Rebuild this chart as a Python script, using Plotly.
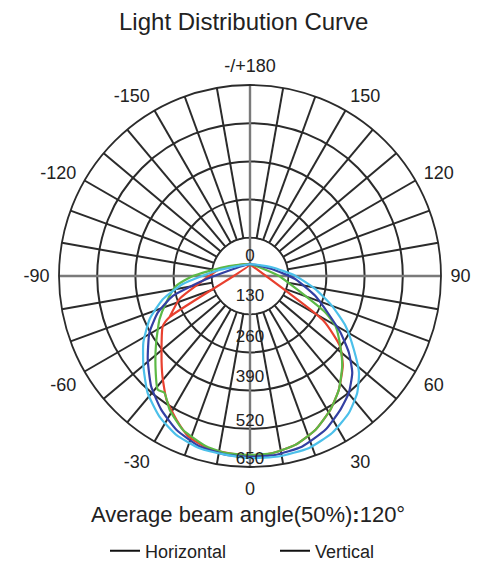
import numpy as np
import plotly.graph_objects as go

# ---- data ----
ring_values = [130, 260, 390, 520, 650]
ring_labels = ["130", "260", "390", "520", "650"]
angle_ticks = list(range(0, 360, 10))
angle_label_map = {0: "0", 30: "30", 60: "60", 90: "90", 120: "120", 150: "150",
                   180: "-/+180", 210: "-150", 240: "-120", 270: "-90", 300: "-60", 330: "-30"}

red_theta = [-63, -72, -80, -103, -180, -63, -60, -49, -41, -34, -27, -21, -14, -7.5, 0,
             7, 15, 23, 31, 38, 46, 52, 58.6, 180]
red_r = [307, 252, 185, 105, 40, 307, 343, 399, 454, 508, 550, 585, 603, 607, 612,
         608, 595, 569, 531, 491, 439, 389, 294, 40]

green_theta = [-180, -108, -90, -82.5, -72.5, -64.5, -54.6, -45.3, -39.1, -36.2, -31, -23.6,
               -14.3, -7.5, 0, 7, 15, 23, 31, 38, 45.6, 52.2, 59.7, 64.2, 70.3, 90.6, 180]
green_r = [40, 96, 194, 253, 299, 341, 392, 452, 498, 493, 531, 571,
           599, 608, 609, 608, 595, 569, 531, 491, 439, 389, 337, 285, 200, 97, 40]

blue_theta = [-180, -86, -75.6, -68.4, -60.6, -50.8, -41.9, -33.6, -25.6, -16.4, -7.5, 0,
              8, 16.9, 26.1, 34.1, 40.2, 46.6, 52.2, 58, 64.1, 73.1, 86.2, 107.9, 180]
blue_r = [40, 148, 271, 337, 393, 449, 504, 546, 580, 605, 614, 615,
          615, 607, 583, 549, 521, 479, 426, 363, 298, 232, 154, 78, 40]

cyan_theta = [-180, -99, -83.2, -75.1, -66.7, -58, -49.8, -41.2, -32.8, -24.9, -16.3, -7.5, 0,
              9, 18.8, 27.6, 35.8, 42.5, 48.4, 54.7, 62.4, 70, 78.7, 90.4, 111.8, 180]
cyan_r = [40, 115, 230, 307, 372, 428, 475, 529, 569, 596, 611, 614, 620,
          622, 619, 603, 575, 540, 496, 433, 367, 297, 227, 154, 80, 40]

legend_names = ["Horizontal", "Vertical"]

# ---- layout / styles ----
GRID = "#2b2b2b"
FONT = "Liberation Sans, Arial, sans-serif"
ring_label_r = [72, 209, 346, 496, 626]   # text placement of the ring labels
zero_label_r = 65

fig = go.Figure()

# white hub covering inner spokes, with the 130 ring as its outline
hub_theta = np.arange(0, 361, 3)
fig.add_trace(go.Scatterpolar(r=[ring_values[0]] * len(hub_theta), theta=hub_theta,
                              mode="lines", fill="toself", fillcolor="white",
                              line=dict(color=GRID, width=1.6), showlegend=False,
                              hoverinfo="skip"))
# crosshair lines through the centre
for a in (0, 90):
    fig.add_trace(go.Scatterpolar(r=[ring_values[-1], ring_values[-1]], theta=[a, a + 180],
                                  mode="lines", line=dict(color="#7a7a7a", width=2.4),
                                  showlegend=False, hoverinfo="skip"))

for th, rr, col in [(red_theta, red_r, "#e8402f"),
                    (green_theta, green_r, "#5cb946"),
                    (blue_theta, blue_r, "#3340a3"),
                    (cyan_theta, cyan_r, "#4cc0ea")]:
    fig.add_trace(go.Scatterpolar(r=rr, theta=th, mode="lines",
                                  line=dict(color=col, width=2.2, shape="spline", smoothing=0.5),
                                  showlegend=False, hoverinfo="skip"))

# radial value labels
fig.add_trace(go.Scatterpolar(r=ring_label_r + [zero_label_r], theta=[0] * len(ring_label_r) + [180],
                              mode="text", text=ring_labels + ["0"],
                              textfont=dict(family=FONT, size=17, color="#222"),
                              showlegend=False, hoverinfo="skip"))

# legend entries (black lines, as in the reference)
for nm in legend_names:
    fig.add_trace(go.Scatterpolar(r=[None], theta=[None], mode="lines", name=nm,
                                  line=dict(color="#111", width=2)))

# the page has an 8px body margin: the figure sits at (8, 8); it may overflow the window
OFF = 8
W, H = 499 - OFF, 570
R = 191
cx, cy = 250 - OFF, 276 - OFF


def px(x):
    return (x - OFF) / W


def py(y):
    return 1 - (y - OFF) / H


fig.update_layout(
    width=W, height=H,
    margin=dict(l=0, r=0, t=0, b=0),
    paper_bgcolor="white",
    font=dict(family=FONT, color="#222"),
    polar=dict(
        domain=dict(x=[(cx - R) / W, (cx + R) / W], y=[1 - (cy + R) / H, 1 - (cy - R) / H]),
        bgcolor="white",
        radialaxis=dict(range=[0, 650], tickvals=ring_values, showticklabels=False,
                        ticks="", showline=False, gridcolor=GRID, gridwidth=1.6),
        angularaxis=dict(rotation=-90, direction="counterclockwise",
                         tickmode="array", tickvals=angle_ticks,
                         ticktext=[angle_label_map.get(a, "") for a in angle_ticks],
                         ticks="outside", ticklen=5, tickcolor="rgba(0,0,0,0)",
                         tickfont=dict(family=FONT, size=18, color="#222"),
                         showline=True, linecolor=GRID, linewidth=1.8,
                         gridcolor=GRID, gridwidth=1.6),
    ),
    showlegend=True,
    legend=dict(orientation="h", x=px(105), xanchor="left", y=py(551), yanchor="middle",
                font=dict(family=FONT, size=18, color="#222"), entrywidth=125,
                bgcolor="rgba(0,0,0,0)"),
    annotations=[
        dict(text="Light Distribution Curve", x=px(243), y=py(22), xref="paper", yref="paper",
             xanchor="center", yanchor="middle", showarrow=False,
             font=dict(family=FONT, size=24, color="#222")),
        dict(text="Average beam angle(50%)<b>:</b>120°", x=px(248), y=py(514),
             xref="paper", yref="paper", xanchor="center", yanchor="middle", showarrow=False,
             font=dict(family=FONT, size=22, color="#222")),
    ],
)

fig.write_html("out.html")
